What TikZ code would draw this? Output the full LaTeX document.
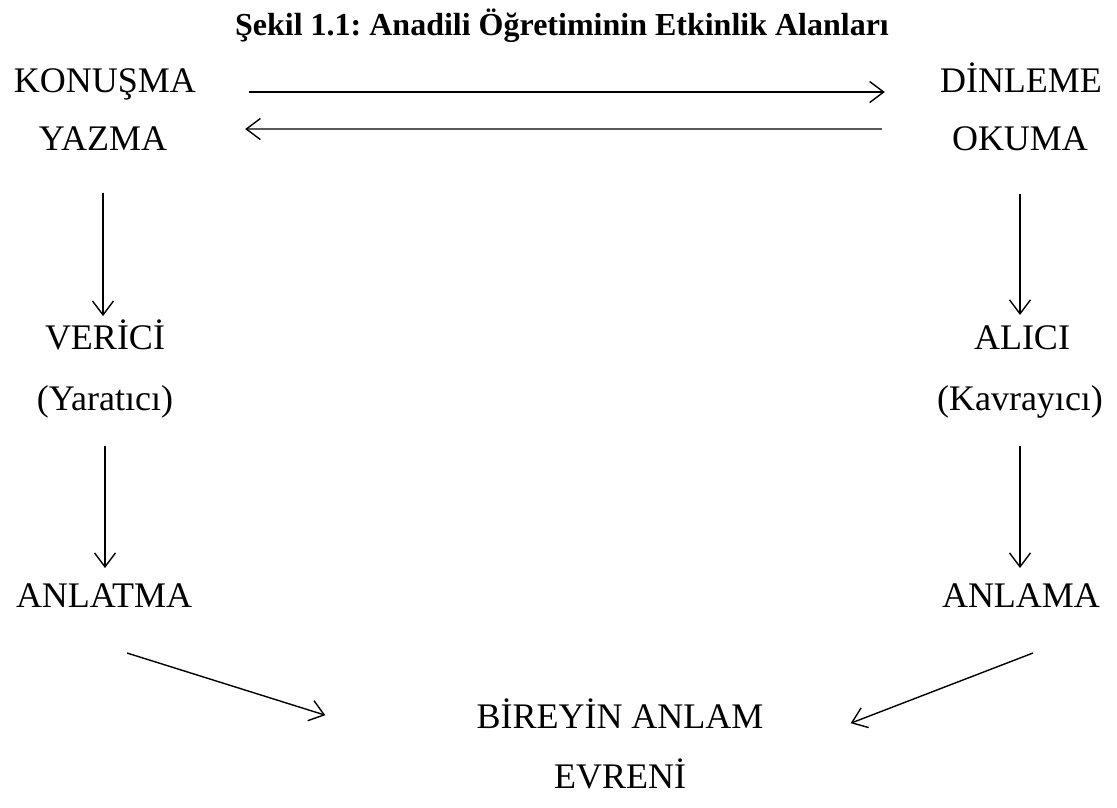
\documentclass[tikz,border=0pt]{standalone}
\usepackage{fontspec}
\setmainfont{Liberation Serif}
\usetikzlibrary{arrows.meta}
\frenchspacing

\begin{document}
\begin{tikzpicture}[x=1pt, y=-1pt,
    etiket/.style={anchor=base, inner sep=0pt, font=\fontsize{36}{40}\selectfont},
    baslik/.style={anchor=base, inner sep=0pt, font=\fontsize{32}{36}\selectfont\bfseries},
    oka/.style={-{Straight Barb[length=14pt, width=21pt]}, line width=1.4pt}]
    \useasboundingbox (0,0) rectangle (1117,807);

    % Baslik
    \node[baslik] (baslik) at (562,35) {Şekil 1.1: Anadili Öğretiminin Etkinlik Alanları};

    % Sol sutun
    \node[etiket] (konusma) at (105,92) {KONUŞMA};
    \node[etiket] (yazma) at (103,150) {YAZMA};
    \node[etiket] (verici) at (105,349) {VERİCİ};
    \node[etiket] (yaratici) at (105,410) {(Yaratıcı)};
    \node[etiket] (anlatma) at (104,607) {ANLATMA};

    % Sag sutun
    \node[etiket] (dinleme) at (1021,92) {DİNLEME};
    \node[etiket] (okuma) at (1020,150) {OKUMA};
    \node[etiket] (alici) at (1022,349) {ALICI};
    \node[etiket] (kavrayici) at (1020,410) {(Kavrayıcı)};
    \node[etiket] (anlama) at (1021,607) {ANLAMA};

    % Alt
    \node[etiket] (birey) at (620,728) {BİREYİN ANLAM};
    \node[etiket] (evreni) at (620,788) {EVRENİ};
    \coordinate (anlatma-cikis) at (127,653);
    \coordinate (anlama-cikis) at (1033,653);

    % Oklar
    \draw[oka, shorten <=53pt, shorten >=55pt] (konusma.base east) -- (dinleme.base west);
    \draw[oka, shorten <=70pt, shorten >=78pt] ([yshift=-3pt]okuma.north west) -- ([yshift=-3pt]yazma.north east);
    \draw[oka, shorten <=43pt, shorten >=3pt] (yazma.south) -- (yazma.south |- verici.north);
    \draw[oka, shorten <=28pt, shorten >=15pt] (yaratici.south) -- (yaratici.south |- anlatma.north);
    \draw[oka, shorten <=43pt, shorten >=10pt] (okuma.south) -- (okuma.south |- alici.north);
    \draw[oka, shorten <=28pt, shorten >=15pt] (kavrayici.south) -- (kavrayici.south |- anlama.north);
    \draw[oka] (anlatma-cikis) -- ([shift={(-151,2)}]birey.west);
    \draw[oka] (anlama-cikis) -- ([shift={(87,10)}]birey.east);
\end{tikzpicture}
\end{document}
